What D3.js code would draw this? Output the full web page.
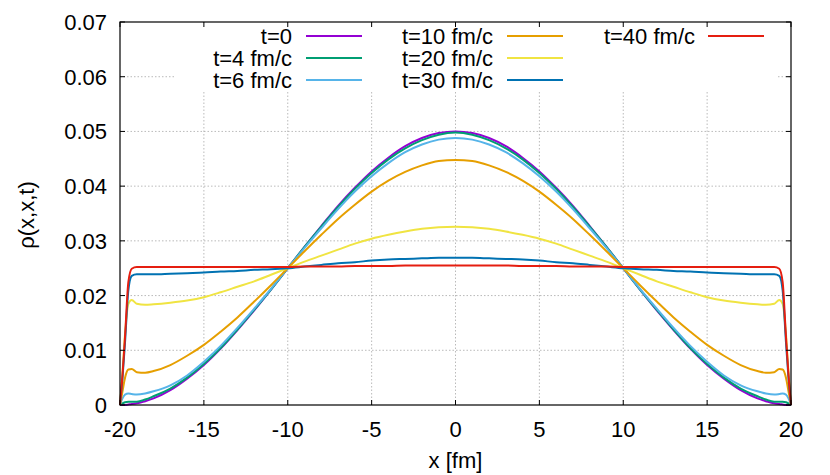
<!DOCTYPE html>
<html>
<head>
<meta charset="utf-8">
<script src="https://cdn.jsdelivr.net/npm/d3@7"></script>
<style>
  body { margin: 0; background: #fff; }
  svg { display: block; font-family: "Liberation Sans", Arial, sans-serif; }
</style>
</head>
<body>
<div id="chart"></div>
<script>
// sample positions along x (fm), denser near the walls
const xs = [-20, -19.85, -19.7, -19.5, -19.3, -19, -18.5, -18, -17, -16, -15, -14, -13, -12, -11, -10,
    -9, -8, -7, -6, -5, -4, -3, -2, -1, 0, 1, 2, 3, 4, 5, 6, 7, 8, 9,
    10, 11, 12, 13, 14, 15, 16, 17, 18, 18.5, 19, 19.3, 19.5, 19.7, 19.85, 20];

const rho_t0 = [0, 0.0000, 0.0000, 0.0001, 0.0002, 0.0003, 0.0007, 0.0012, 0.0027, 0.0048, 0.0073, 0.0103, 0.0137, 0.0173, 0.0211, 0.0250,
    0.0289, 0.0327, 0.0364, 0.0397, 0.0427, 0.0452, 0.0473, 0.0488, 0.0497, 0.0500, 0.0497, 0.0488, 0.0473, 0.0452, 0.0427, 0.0397, 0.0364, 0.0327, 0.0289,
    0.0250, 0.0211, 0.0173, 0.0137, 0.0103, 0.0073, 0.0048, 0.0027, 0.0012, 0.0007, 0.0003, 0.0002, 0.0001, 0.0000, 0.0000, 0];
const rho_t4 = [0, 0.0003, 0.0005, 0.0006, 0.0006, 0.0006, 0.0010, 0.0016, 0.0030, 0.0050, 0.0075, 0.0104, 0.0138, 0.0174, 0.0211, 0.0250,
    0.0289, 0.0326, 0.0362, 0.0395, 0.0424, 0.0449, 0.0469, 0.0484, 0.0494, 0.0498, 0.0494, 0.0484, 0.0469, 0.0449, 0.0424, 0.0395, 0.0362, 0.0326, 0.0289,
    0.0250, 0.0211, 0.0174, 0.0138, 0.0104, 0.0075, 0.0050, 0.0030, 0.0016, 0.0010, 0.0006, 0.0006, 0.0006, 0.0005, 0.0003, 0];
const rho_t6 = [0, 0.0012, 0.0019, 0.0021, 0.0020, 0.0019, 0.0021, 0.0025, 0.0036, 0.0054, 0.0079, 0.0108, 0.0141, 0.0176, 0.0212, 0.0250,
    0.0287, 0.0323, 0.0358, 0.0390, 0.0418, 0.0442, 0.0462, 0.0476, 0.0485, 0.0488, 0.0485, 0.0476, 0.0462, 0.0442, 0.0418, 0.0390, 0.0358, 0.0323, 0.0287,
    0.0250, 0.0212, 0.0176, 0.0141, 0.0108, 0.0079, 0.0054, 0.0036, 0.0025, 0.0021, 0.0019, 0.0020, 0.0021, 0.0019, 0.0012, 0];
const rho_t10 = [0, 0.0025, 0.0050, 0.0065, 0.0066, 0.0060, 0.0059, 0.0062, 0.0073, 0.0090, 0.0110, 0.0134, 0.0160, 0.0189, 0.0219, 0.0250,
    0.0281, 0.0311, 0.0340, 0.0366, 0.0390, 0.0410, 0.0426, 0.0438, 0.0446, 0.0448, 0.0446, 0.0438, 0.0426, 0.0410, 0.0390, 0.0366, 0.0340, 0.0311, 0.0281,
    0.0250, 0.0219, 0.0189, 0.0160, 0.0134, 0.0110, 0.0090, 0.0073, 0.0062, 0.0059, 0.0060, 0.0066, 0.0065, 0.0050, 0.0025, 0];
const rho_t20 = [0, 0.0060, 0.0130, 0.0185, 0.0192, 0.0185, 0.0183, 0.0184, 0.0187, 0.0191, 0.0197, 0.0206, 0.0216, 0.0226, 0.0238, 0.0250,
    0.0262, 0.0273, 0.0284, 0.0295, 0.0304, 0.0311, 0.0317, 0.0322, 0.0325, 0.0326, 0.0325, 0.0322, 0.0317, 0.0311, 0.0304, 0.0295, 0.0284, 0.0273, 0.0262,
    0.0250, 0.0238, 0.0226, 0.0216, 0.0206, 0.0197, 0.0191, 0.0187, 0.0184, 0.0183, 0.0185, 0.0192, 0.0185, 0.0130, 0.0060, 0];
const rho_t30 = [0, 0.0050, 0.0115, 0.0210, 0.0236, 0.0239, 0.0239, 0.0239, 0.0240, 0.0241, 0.0242, 0.0244, 0.0245, 0.0247, 0.0248, 0.0250,
    0.0253, 0.0256, 0.0259, 0.0261, 0.0264, 0.0266, 0.0267, 0.0268, 0.0269, 0.0269, 0.0269, 0.0268, 0.0267, 0.0266, 0.0264, 0.0261, 0.0259, 0.0256, 0.0253,
    0.0250, 0.0248, 0.0247, 0.0245, 0.0244, 0.0242, 0.0241, 0.0240, 0.0239, 0.0239, 0.0239, 0.0236, 0.0210, 0.0115, 0.0050, 0];
const rho_t40 = [0, 0.0055, 0.0125, 0.0225, 0.0249, 0.0252, 0.0252, 0.0252, 0.0252, 0.0252, 0.0252, 0.0252, 0.0252, 0.0252, 0.0252, 0.0252,
    0.0253, 0.0253, 0.0253, 0.0254, 0.0254, 0.0254, 0.0255, 0.0255, 0.0255, 0.0255, 0.0255, 0.0255, 0.0255, 0.0254, 0.0254, 0.0254, 0.0253, 0.0253, 0.0253,
    0.0252, 0.0252, 0.0252, 0.0252, 0.0252, 0.0252, 0.0252, 0.0252, 0.0252, 0.0252, 0.0252, 0.0249, 0.0225, 0.0125, 0.0055, 0];

const seriesNames = ["t=0", "t=4 fm/c", "t=6 fm/c", "t=10 fm/c", "t=20 fm/c", "t=30 fm/c", "t=40 fm/c"];
const seriesValues = [rho_t0, rho_t4, rho_t6, rho_t10, rho_t20, rho_t30, rho_t40];
const seriesColors = ["#9400d3", "#009e73", "#56b4e9", "#e69f00", "#f0e442", "#0072b2", "#e51e10"];

const xTicks = [-20, -15, -10, -5, 0, 5, 10, 15, 20];
const yTicks = [0, 0.01, 0.02, 0.03, 0.04, 0.05, 0.06, 0.07];

const CONFIG = {
    width: 830,
    height: 475,
    left: 120,
    right: 791,
    top: 22,
    bottom: 405,
    font_size: 22,
    tic_len: 5
};

function draw(CONFIG) {
    const svg = d3.select('#chart').append('svg')
        .attr('width', CONFIG.width)
        .attr('height', CONFIG.height);

    const xScale = d3.scaleLinear().domain([-20, 20]).range([CONFIG.left, CONFIG.right]);
    const yScale = d3.scaleLinear().domain([0, 0.07]).range([CONFIG.bottom, CONFIG.top]);

    // grid (gnuplot style dotted)
    const grid = svg.append('g');
    grid.selectAll('.gx').data(xTicks.slice(1, -1)).enter().append('line')
        .attr('x1', d => xScale(d)).attr('x2', d => xScale(d))
        .attr('y1', CONFIG.top).attr('y2', CONFIG.bottom)
        .attr('stroke', '#a8a8a8').attr('stroke-width', 0.8).attr('stroke-dasharray', '1.5,2');
    grid.selectAll('.gy').data(yTicks.slice(1, -1)).enter().append('line')
        .attr('x1', CONFIG.left).attr('x2', CONFIG.right)
        .attr('y1', d => yScale(d)).attr('y2', d => yScale(d))
        .attr('stroke', '#a8a8a8').attr('stroke-width', 0.8).attr('stroke-dasharray', '1.5,2');

    // the key box is opaque and hides the grid under it
    svg.append('rect')
        .attr('x', 175).attr('y', CONFIG.top + 1)
        .attr('width', 602).attr('height', 69)
        .attr('fill', 'white');

    // curves
    const line = d3.line()
        .x((d, i) => xScale(xs[i]))
        .y(d => yScale(d))
        .curve(d3.curveMonotoneX);
    svg.selectAll('.curve')
        .data(seriesValues)
        .enter()
        .append('path')
        .attr('class', 'curve')
        .attr('d', d => line(d))
        .attr('fill', 'none')
        .attr('stroke', (d, i) => seriesColors[i])
        .attr('stroke-width', 2)
        .attr('stroke-linejoin', 'round');

    // border + inward tics on all four sides
    svg.append('rect')
        .attr('x', CONFIG.left).attr('y', CONFIG.top)
        .attr('width', CONFIG.right - CONFIG.left).attr('height', CONFIG.bottom - CONFIG.top)
        .attr('fill', 'none').attr('stroke', 'black').attr('stroke-width', 1.2);
    const tics = svg.append('g').attr('stroke', 'black').attr('stroke-width', 1);
    xTicks.forEach((t) => {
        tics.append('line').attr('x1', xScale(t)).attr('x2', xScale(t)).attr('y1', CONFIG.bottom).attr('y2', CONFIG.bottom - CONFIG.tic_len);
        tics.append('line').attr('x1', xScale(t)).attr('x2', xScale(t)).attr('y1', CONFIG.top).attr('y2', CONFIG.top + CONFIG.tic_len);
    });
    yTicks.forEach((t) => {
        tics.append('line').attr('x1', CONFIG.left).attr('x2', CONFIG.left + CONFIG.tic_len).attr('y1', yScale(t)).attr('y2', yScale(t));
        tics.append('line').attr('x1', CONFIG.right).attr('x2', CONFIG.right - CONFIG.tic_len).attr('y1', yScale(t)).attr('y2', yScale(t));
    });

    // tic labels
    svg.selectAll('.xlab').data(xTicks).enter().append('text')
        .text(d => d)
        .attr('x', d => xScale(d))
        .attr('y', CONFIG.bottom + 32)
        .attr('font-size', CONFIG.font_size)
        .attr('text-anchor', 'middle');
    svg.selectAll('.ylab').data(yTicks).enter().append('text')
        .text(d => d === 0 ? '0' : d3.format('.2f')(d))
        .attr('x', CONFIG.left - 13)
        .attr('y', d => yScale(d) + 8)
        .attr('font-size', CONFIG.font_size)
        .attr('text-anchor', 'end');

    // axis titles
    svg.append('text')
        .text('x [fm]')
        .attr('x', (CONFIG.left + CONFIG.right) / 2)
        .attr('y', 468)
        .attr('font-size', CONFIG.font_size)
        .attr('text-anchor', 'middle');
    svg.append('text')
        .text('ρ(x,x,t)')
        .attr('transform', 'translate(34,215) rotate(-90)')
        .attr('font-size', CONFIG.font_size)
        .attr('text-anchor', 'middle');

    // key: 3 columns, text right-aligned then a line sample
    const keyCols = [{ textX: 292, lineX: 306 }, { textX: 493, lineX: 507 }, { textX: 695, lineX: 708 }];
    const keyRows = [36, 58, 80];
    seriesNames.forEach((name, i) => {
        const col = keyCols[Math.floor(i / 3)];
        const row = keyRows[i % 3];
        svg.append('text')
            .text(name)
            .attr('x', col.textX)
            .attr('y', row + 8)
            .attr('font-size', CONFIG.font_size)
            .attr('text-anchor', 'end');
        svg.append('line')
            .attr('x1', col.lineX).attr('x2', col.lineX + 56)
            .attr('y1', row).attr('y2', row)
            .attr('stroke', seriesColors[i])
            .attr('stroke-width', 2);
    });
}

draw(CONFIG);
</script>
</body>
</html>
